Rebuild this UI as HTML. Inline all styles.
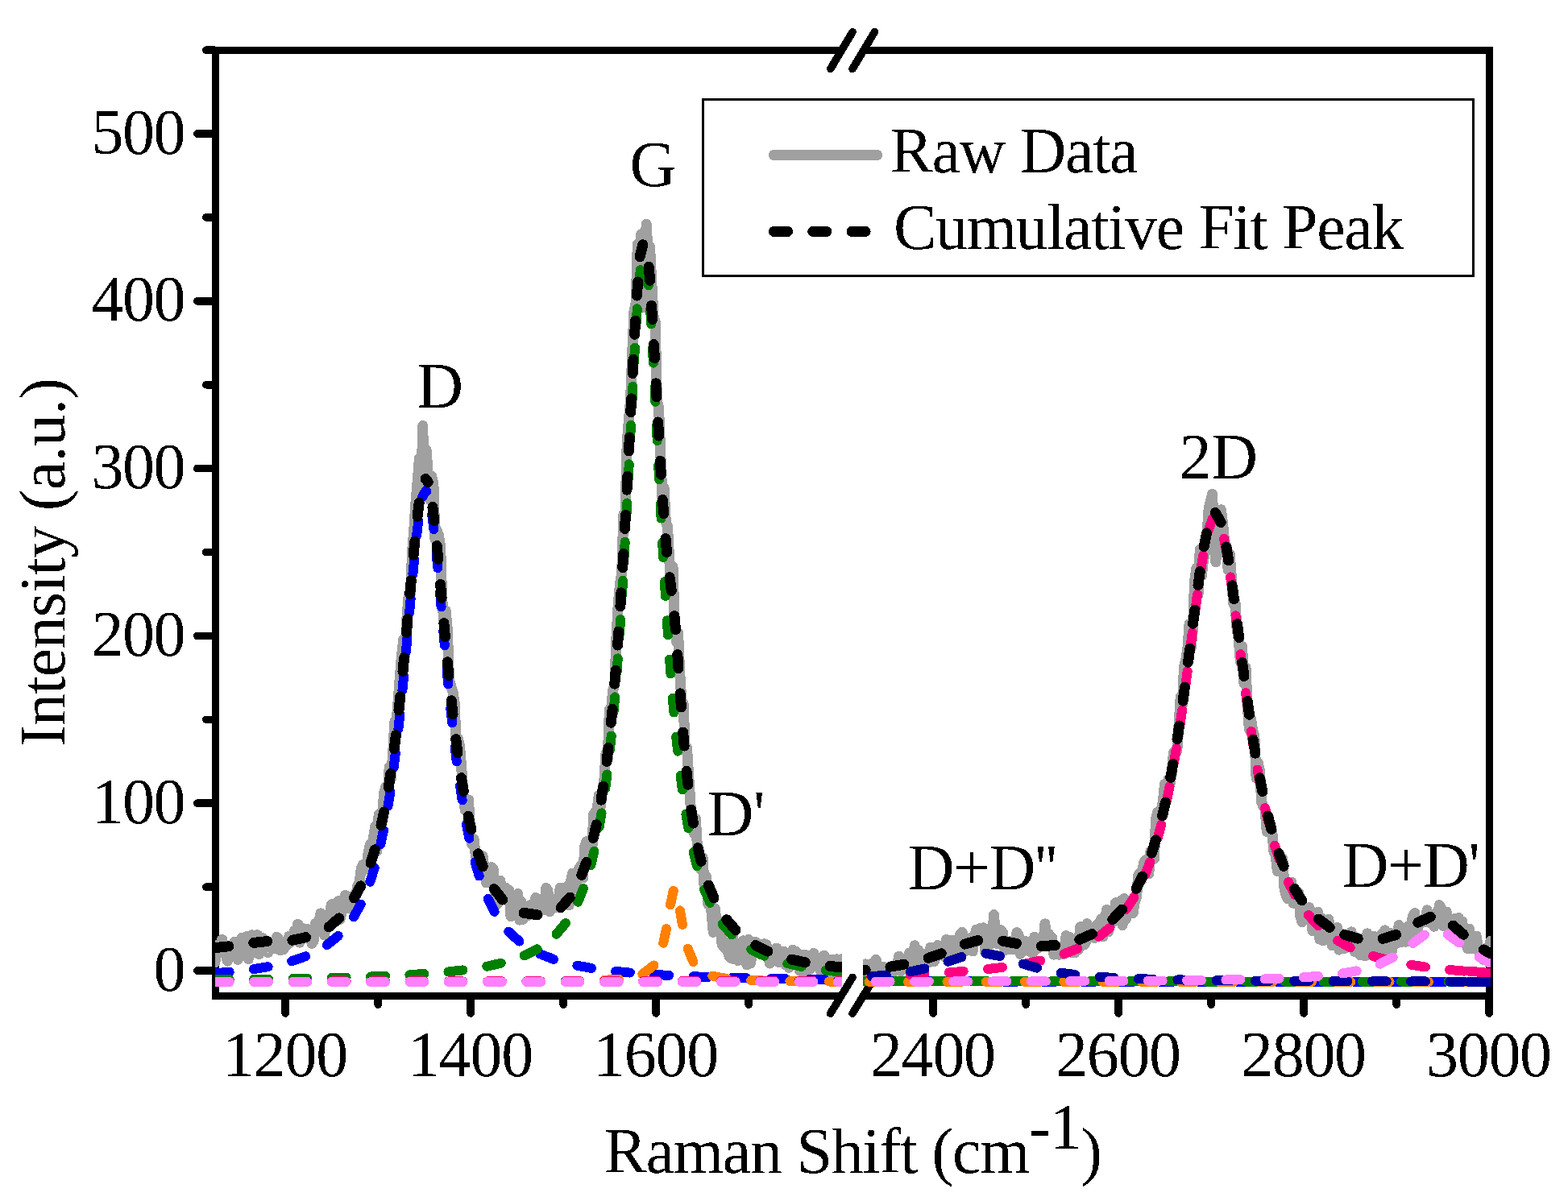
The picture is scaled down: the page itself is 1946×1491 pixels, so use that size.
<!DOCTYPE html>
<html lang="en"><head><meta charset="utf-8"><title>Raman spectrum</title>
<style>html,body{margin:0;padding:0;background:#fff}svg{display:block}text{font-family:"Liberation Serif",serif;font-size:80px;fill:#000}.ax{stroke:#000;stroke-width:9;fill:none;stroke-linecap:butt}.tk{stroke:#000;stroke-width:9.6;fill:none;stroke-linecap:round}.fit{fill:none;stroke-width:12;stroke-linecap:round;stroke-linejoin:round}.cum{fill:none;stroke:#000;stroke-width:13;stroke-linecap:round;stroke-linejoin:round}.raw{fill:none;stroke:#A0A0A0;stroke-width:13;stroke-linecap:round;stroke-linejoin:round}</style></head><body>
<svg width="1946" height="1491" viewBox="0 0 1946 1491" shape-rendering="crispEdges">
<rect width="1946" height="1491" fill="#fff"/>
<defs><filter id="tx" x="-5%" y="-20%" width="110%" height="140%" color-interpolation-filters="sRGB"><feComponentTransfer><feFuncA type="discrete" tableValues="0 1"/></feComponentTransfer></filter><clipPath id="cl"><rect x="267" y="58" width="778" height="1179"/></clipPath><clipPath id="cr"><rect x="1071" y="58" width="779" height="1179"/></clipPath></defs>
<g class="ax">
<path d="M267.7 58 V1240.5"/>
<path d="M1848.6 58 V1258"/>
<path d="M263.2 62.5 H1044.4 M1071.6 62.5 H1853.1"/>
<path d="M263.2 1236.0 H1044.4 M1071.6 1236.0 H1853.1"/>
</g>
<g class="tk">
<path d="M244.8 1205.0 H266 M255.8 1101.1 H266 M244.8 997.2 H266 M255.8 893.3 H266 M244.8 789.4 H266 M255.8 685.5 H266 M244.8 581.6 H266 M255.8 477.7 H266 M244.8 373.8 H266 M255.8 269.9 H266 M244.8 166.0 H266 M255.8 62.1 H266"/>
<path d="M354.2 1238 V1258.0 M469.2 1238 V1247.2 M584.2 1238 V1258.0 M699.2 1238 V1247.2 M814.2 1238 V1258.0 M929.2 1238 V1247.2 M1158.1 1238 V1258.0 M1273.1 1238 V1247.2 M1388.1 1238 V1258.0 M1503.1 1238 V1247.2 M1618.1 1238 V1258.0 M1733.1 1238 V1247.2 M1848.1 1238 V1258.0"/>
<path stroke-width="9.6" d="M1030.8 85.4 L1058 39.7 M1058 85.4 L1085.4 39.7 M1030.6 1258.2 L1058 1213.4 M1058 1258.2 L1085.4 1213.4"/>
</g>
<g clip-path="url(#cl)">
<path class="raw" d="M266.9,1194.9 L269.1,1173.3 L271.3,1183.4 L273.5,1174.4 L275.7,1166.4 L277.8,1179.5 L280.0,1180.3 L282.2,1193.1 L284.4,1186.8 L286.6,1179.4 L288.8,1173.5 L291.0,1169.3 L293.1,1182.0 L295.3,1191.4 L297.5,1184.2 L299.7,1164.6 L301.9,1185.8 L304.1,1178.0 L306.2,1162.7 L308.4,1190.5 L310.6,1172.2 L312.8,1160.8 L315.0,1182.9 L317.2,1172.5 L319.4,1160.7 L321.5,1184.6 L323.7,1171.9 L325.9,1164.6 L328.1,1167.5 L330.3,1174.0 L332.5,1182.5 L334.7,1173.7 L336.8,1177.5 L339.0,1174.4 L341.2,1178.0 L343.4,1163.2 L345.6,1165.4 L347.8,1179.9 L349.9,1170.7 L352.1,1178.7 L354.3,1171.7 L356.5,1173.4 L358.7,1162.3 L360.9,1169.9 L363.1,1165.5 L365.2,1155.7 L367.4,1163.9 L369.6,1147.4 L371.8,1170.1 L374.0,1151.6 L376.2,1161.2 L378.4,1160.5 L380.5,1153.1 L382.7,1156.0 L384.9,1158.8 L387.1,1171.5 L389.3,1167.7 L391.5,1146.2 L393.6,1151.0 L395.8,1143.9 L398.0,1133.9 L400.2,1141.4 L402.4,1160.9 L404.6,1150.8 L406.8,1139.5 L408.9,1149.9 L411.1,1123.5 L413.3,1122.2 L415.5,1123.2 L417.7,1134.0 L419.9,1118.7 L422.1,1141.3 L424.2,1132.5 L426.4,1124.3 L428.6,1111.4 L430.8,1117.6 L433.0,1127.3 L435.2,1116.4 L437.3,1113.6 L439.5,1110.8 L441.7,1112.4 L443.9,1099.6 L446.1,1094.9 L448.3,1078.3 L450.5,1073.2 L452.6,1079.6 L454.8,1077.2 L457.0,1059.0 L459.2,1048.7 L461.4,1051.1 L463.6,1039.0 L465.8,1025.6 L467.9,1056.4 L470.1,1011.4 L472.3,1028.7 L474.5,1009.9 L476.7,984.5 L478.9,976.5 L481.0,990.8 L483.2,952.5 L485.4,966.3 L487.6,936.3 L489.8,896.1 L492.0,897.2 L494.2,868.6 L496.3,840.8 L498.5,813.6 L500.7,793.7 L502.9,812.2 L505.1,764.5 L507.3,737.3 L509.5,737.1 L511.6,684.2 L513.8,657.5 L516.0,623.1 L518.2,597.7 L520.4,569.1 L522.6,618.0 L524.7,528.6 L526.9,617.1 L529.1,558.7 L531.3,589.1 L533.5,620.5 L535.7,591.0 L537.9,600.3 L540.0,669.5 L542.2,658.4 L544.4,664.5 L546.6,677.8 L548.8,744.0 L551.0,774.5 L553.2,758.4 L555.3,780.9 L557.5,843.3 L559.7,852.0 L561.9,858.3 L564.1,871.8 L566.3,925.1 L568.4,917.4 L570.6,926.7 L572.8,954.5 L575.0,986.8 L577.2,1005.6 L579.4,1005.9 L581.6,993.0 L583.7,1037.7 L585.9,1048.6 L588.1,1041.7 L590.3,1062.7 L592.5,1066.4 L594.7,1078.6 L596.9,1064.0 L599.0,1062.7 L601.2,1079.2 L603.4,1095.9 L605.6,1092.6 L607.8,1086.5 L610.0,1076.7 L612.1,1078.5 L614.3,1111.0 L616.5,1122.9 L618.7,1094.4 L620.9,1093.3 L623.1,1113.3 L625.3,1103.7 L627.4,1102.1 L629.6,1113.4 L631.8,1105.2 L634.0,1137.8 L636.2,1129.9 L638.4,1130.8 L640.6,1137.4 L642.7,1109.6 L644.9,1142.1 L647.1,1119.5 L649.3,1141.2 L651.5,1130.6 L653.7,1128.3 L655.8,1136.4 L658.0,1123.8 L660.2,1122.6 L662.4,1129.9 L664.6,1114.5 L666.8,1134.5 L669.0,1132.7 L671.1,1126.0 L673.3,1124.1 L675.5,1129.1 L677.7,1102.4 L679.9,1105.5 L682.1,1131.8 L684.3,1122.7 L686.4,1127.9 L688.6,1120.1 L690.8,1126.3 L693.0,1117.9 L695.2,1102.1 L697.4,1120.7 L699.5,1109.1 L701.7,1108.8 L703.9,1100.5 L706.1,1123.8 L708.3,1095.1 L710.5,1084.1 L712.7,1093.8 L714.8,1102.3 L717.0,1083.2 L719.2,1077.1 L721.4,1074.4 L723.6,1089.7 L725.8,1050.2 L728.0,1044.7 L730.1,1060.1 L732.3,1045.6 L734.5,1061.3 L736.7,1010.9 L738.9,1008.1 L741.1,1005.2 L743.2,987.5 L745.4,1001.1 L747.6,981.5 L749.8,969.1 L752.0,935.2 L754.2,941.8 L756.4,880.7 L758.5,880.6 L760.7,857.2 L762.9,849.2 L765.1,788.2 L767.3,748.8 L769.5,725.1 L771.7,711.3 L773.8,638.9 L776.0,637.0 L778.2,550.0 L780.4,521.0 L782.6,495.6 L784.8,436.6 L786.9,387.1 L789.1,376.6 L791.3,303.3 L793.5,311.7 L795.7,290.7 L797.9,382.1 L800.1,319.9 L802.2,278.2 L804.4,317.8 L806.6,306.4 L808.8,350.7 L811.0,391.6 L813.2,399.8 L815.4,498.3 L817.5,505.4 L819.7,560.5 L821.9,616.9 L824.1,605.5 L826.3,648.1 L828.5,653.8 L830.6,693.2 L832.8,726.2 L835.0,703.3 L837.2,771.5 L839.4,796.6 L841.6,785.8 L843.8,837.2 L845.9,869.8 L848.1,873.8 L850.3,930.2 L852.5,928.3 L854.7,962.9 L856.9,997.6 L859.1,1027.3 L861.2,1034.4 L863.4,1016.6 L865.6,1053.8 L867.8,1075.4 L870.0,1079.8 L872.2,1065.0 L874.3,1104.4 L876.5,1088.6 L878.7,1122.6 L880.9,1104.0 L883.1,1133.9 L885.3,1157.4 L887.5,1128.2 L889.6,1153.5 L891.8,1143.4 L894.0,1154.3 L896.2,1172.8 L898.4,1175.6 L900.6,1177.5 L902.8,1180.2 L904.9,1187.0 L907.1,1189.6 L909.3,1160.5 L911.5,1191.0 L913.7,1178.4 L915.9,1192.6 L918.0,1190.5 L920.2,1173.1 L922.4,1167.7 L924.6,1183.0 L926.8,1197.8 L929.0,1166.2 L931.2,1196.1 L933.3,1185.2 L935.5,1180.5 L937.7,1169.5 L939.9,1171.4 L942.1,1177.8 L944.3,1184.9 L946.5,1172.4 L948.6,1171.9 L950.8,1172.4 L953.0,1177.5 L955.2,1196.1 L957.4,1190.6 L959.6,1185.6 L961.7,1185.7 L963.9,1177.0 L966.1,1194.6 L968.3,1183.1 L970.5,1191.9 L972.7,1181.1 L974.9,1197.9 L977.0,1190.5 L979.2,1201.3 L981.4,1198.7 L983.6,1179.4 L985.8,1196.7 L988.0,1181.4 L990.2,1191.8 L992.3,1205.2 L994.5,1185.4 L996.7,1205.5 L998.9,1185.2 L1001.1,1207.1 L1003.3,1189.9 L1005.4,1203.5 L1007.6,1199.1 L1009.8,1183.5 L1012.0,1195.9 L1014.2,1191.7 L1016.4,1189.8 L1018.6,1206.2 L1020.7,1187.8 L1022.9,1186.1 L1025.1,1205.5 L1027.3,1195.8 L1029.5,1202.6 L1031.7,1191.3 L1033.9,1209.3 L1036.0,1197.5 L1038.2,1190.8 L1040.4,1192.5 L1042.6,1208.1 L1044.8,1190.6"/>
<path class="fit" stroke="#0000FF" d="M266.9 1208.3 L284.7 1206.7 M314.9 1203.1 L332.6 1200.2 M362.2 1193.2 L379.1 1187.3 M405.9 1173.1 L419.7 1161.9 M438.9 1138.3 L447.7 1122.7 M459.3 1094.7 L464.7 1077.6 M472.3 1048.2 L476.0 1030.7 M481.5 1000.8 L484.3 983.1 M488.6 953.0 L490.8 935.2 M494.4 905.0 L496.3 887.3 M499.4 857.0 L501.1 839.2 M503.9 808.9 L505.5 791.1 M508.1 760.8 L509.7 743.0 M512.4 712.7 L514.1 694.9 M517.2 664.6 L519.2 646.9 M524.2 616.9 L528.5 609.1 M528.5 609.1 L529.5 609.9 M536.2 639.4 L538.4 657.1 M541.6 687.3 L543.3 705.2 M546.0 735.4 L547.6 753.3 M550.3 783.6 L551.8 801.4 M554.6 831.7 L556.3 849.5 M559.3 879.7 L561.2 897.5 M564.6 927.7 L566.8 945.5 M571.0 975.6 L573.7 993.3 M578.9 1023.3 L582.4 1040.8 M589.6 1070.3 L594.7 1087.5 M605.5 1115.9 L613.6 1131.9 M631.3 1156.5 L644.4 1168.6 M670.4 1184.4 L687.0 1190.9 M716.4 1198.7 L734.0 1201.9 M764.1 1205.9 L781.9 1207.6 M812.2 1209.9 L830.1 1210.9 M860.5 1212.3 L878.4 1212.9 M908.8 1213.9 L926.7 1214.3 M957.1 1214.9 L974.9 1215.2 M1005.3 1215.7 L1023.2 1215.9"/>
<path class="fit" stroke="#008000" d="M266.9 1216.3 L284.8 1216.1 M315.2 1215.7 L333.1 1215.5 M363.5 1215.0 L381.4 1214.7 M411.8 1214.0 L429.7 1213.5 M460.1 1212.5 L478.0 1211.7 M508.3 1210.2 L526.2 1209.0 M556.5 1206.4 L574.3 1204.4 M604.3 1199.7 L621.7 1195.8 M650.6 1186.3 L666.6 1178.3 M690.5 1159.7 L702.0 1146.0 M717.2 1119.7 L724.0 1103.1 M733.2 1074.1 L737.5 1056.8 M743.6 1027.0 L746.6 1009.4 M751.1 979.3 L753.4 961.5 M756.9 931.3 L758.7 913.5 M761.6 883.3 L763.1 865.4 M765.5 835.1 L766.8 817.3 M768.9 786.9 L770.1 769.1 M772.0 738.7 L773.0 720.9 M774.7 690.5 L775.7 672.7 M777.3 642.3 L778.2 624.4 M779.8 594.1 L780.7 576.2 M782.1 545.8 L783.0 527.9 M784.5 497.6 L785.4 479.7 M787.0 449.3 L787.9 431.5 M789.7 401.1 L790.8 383.2 M793.1 352.9 L794.8 335.1 M803.1 336.4 L804.9 354.2 M807.1 384.5 L808.2 402.4 M809.9 432.7 L810.9 450.6 M812.5 480.9 L813.3 498.8 M814.8 529.2 L815.7 547.1 M817.2 577.4 L818.1 595.3 M819.6 625.7 L820.6 643.5 M822.2 673.9 L823.1 691.8 M824.9 722.1 L825.9 740.0 M827.8 770.3 L829.0 788.2 M831.1 818.5 L832.4 836.4 M834.8 866.7 L836.4 884.5 M839.2 914.8 L841.1 932.6 M844.6 962.8 L846.9 980.5 M851.4 1010.6 L854.4 1028.2 M860.6 1058.0 L865.0 1075.3 M874.2 1104.3 L881.2 1120.8 M896.5 1147.0 L908.2 1160.5 M932.3 1178.9 L948.4 1186.7 M977.3 1196.1 L994.8 1199.9 M1024.8 1204.5 L1042.6 1206.5"/>
<path class="fit" stroke="#FF8000" d="M266.9 1218.9 L284.8 1218.9 M315.2 1218.9 L333.1 1218.9 M363.5 1218.8 L381.4 1218.8 M411.8 1218.8 L429.7 1218.8 M460.1 1218.8 L478.0 1218.8 M508.4 1218.8 L526.3 1218.7 M556.7 1218.7 L574.6 1218.7 M605.0 1218.6 L622.9 1218.6 M653.3 1218.4 L671.2 1218.3 M701.6 1218.0 L719.5 1217.7 M749.9 1216.8 L767.8 1215.6 M797.4 1209.3 L811.4 1198.5 M823.2 1170.7 L827.0 1153.2 M832.0 1123.3 L835.8 1105.8 M844.0 1130.4 L847.0 1148.0 M853.6 1177.7 L860.5 1194.1 M884.3 1211.7 L901.8 1215.0 M932.2 1217.1 L950.0 1217.6 M980.4 1218.1 L998.3 1218.3 M1028.7 1218.5 L1044.9 1218.5"/>
<path class="fit" stroke="#FF0080" d="M266.9 1218.5 L284.8 1218.5 M315.2 1218.5 L333.1 1218.5 M363.5 1218.5 L381.4 1218.5 M411.8 1218.5 L429.7 1218.4 M460.1 1218.4 L478.0 1218.4 M508.4 1218.4 L526.3 1218.4 M556.7 1218.4 L574.6 1218.4 M605.0 1218.3 L622.9 1218.3 M653.3 1218.3 L671.2 1218.3 M701.6 1218.2 L719.5 1218.2 M749.9 1218.2 L767.8 1218.2 M798.2 1218.1 L816.1 1218.1 M846.5 1218.1 L864.4 1218.1 M894.8 1218.0 L912.7 1218.0 M943.1 1217.9 L961.0 1217.9 M991.4 1217.8 L1009.3 1217.8 M1039.7 1217.7 L1044.9 1217.7"/>
<path class="fit" stroke="#0000A0" d="M266.9 1218.9 L284.8 1218.9 M315.2 1218.9 L333.1 1218.8 M363.5 1218.8 L381.4 1218.8 M411.8 1218.8 L429.7 1218.8 M460.1 1218.8 L478.0 1218.8 M508.4 1218.8 L526.3 1218.8 M556.7 1218.8 L574.6 1218.8 M605.0 1218.8 L622.9 1218.8 M653.3 1218.8 L671.2 1218.8 M701.6 1218.8 L719.5 1218.8 M749.9 1218.8 L767.8 1218.8 M798.2 1218.8 L816.1 1218.8 M846.5 1218.7 L864.4 1218.7 M894.8 1218.7 L912.7 1218.7 M943.1 1218.7 L961.0 1218.7 M991.4 1218.7 L1009.3 1218.7 M1039.7 1218.6 L1044.9 1218.6"/>
<path class="fit" stroke="#FF80FF" d="M266.9 1218.9 L284.8 1218.9 M315.2 1218.9 L333.1 1218.9 M363.5 1218.9 L381.4 1218.9 M411.8 1218.9 L429.7 1218.9 M460.1 1218.9 L478.0 1218.9 M508.4 1218.9 L526.3 1218.9 M556.7 1218.9 L574.6 1218.9 M605.0 1218.9 L622.9 1218.9 M653.3 1218.9 L671.2 1218.9 M701.6 1218.9 L719.5 1218.9 M749.9 1218.9 L767.8 1218.9 M798.2 1218.9 L816.1 1218.9 M846.5 1218.8 L864.4 1218.8 M894.8 1218.8 L912.7 1218.8 M943.1 1218.8 L961.0 1218.8 M991.4 1218.8 L1009.3 1218.8 M1039.7 1218.8 L1044.9 1218.8"/>
<path class="cum" d="M266.9 1176.6 L283.9 1174.8 M314.8 1170.4 L331.7 1168.5 M362.9 1167.2 L379.6 1163.7 M408.0 1151.0 L420.8 1139.8 M439.4 1114.8 L447.7 1099.9 M460.0 1071.2 L465.2 1054.9 M473.0 1024.7 L476.6 1008.0 M482.2 977.3 L484.9 960.4 M489.2 929.5 L491.4 912.6 M495.0 881.6 L496.8 864.6 M500.0 833.5 L501.6 816.5 M504.5 785.4 L506.0 768.4 M508.8 737.3 L510.3 720.3 M513.1 689.2 L514.8 672.2 M518.1 641.2 L520.2 624.2 M528.1 594.6 L528.5 594.6 M528.5 594.6 L531.2 598.7 M536.9 629.4 L538.9 646.4 M542.2 677.4 L543.8 694.4 M546.6 725.5 L548.1 742.5 M550.9 773.6 L552.4 790.6 M555.3 821.7 L557.0 838.7 M560.2 869.7 L562.1 886.7 M565.8 917.7 L568.0 934.7 M572.5 965.6 L575.3 982.4 M581.1 1013.1 L584.9 1029.7 M593.4 1059.8 L599.2 1075.8 M613.3 1103.6 L623.8 1117.1 M650.0 1133.3 L666.9 1135.8 M696.1 1126.8 L707.3 1114.0 M721.8 1086.4 L727.8 1070.4 M736.4 1040.4 L740.2 1023.8 M746.0 993.1 L748.7 976.2 M753.0 945.3 L755.0 928.4 M758.4 897.3 L760.1 880.3 M762.8 849.2 L764.2 832.2 M766.6 801.1 L767.8 784.0 M769.9 752.9 L770.9 735.8 M772.8 704.7 L773.8 687.6 M775.5 656.5 L776.4 639.4 M778.0 608.2 L778.9 591.2 M780.5 560.0 L781.3 542.9 M782.8 511.7 L783.6 494.7 M785.2 463.5 L786.0 446.4 M787.7 415.3 L788.6 398.2 M790.5 367.1 L791.6 350.0 M794.1 318.9 L797.8 303.8 M805.3 331.2 L806.6 348.2 M808.6 379.4 L809.7 396.4 M811.4 427.6 L812.4 444.7 M814.1 475.8 L815.0 492.9 M816.7 524.0 L817.6 541.1 M819.4 572.3 L820.4 589.3 M822.4 620.5 L823.6 637.5 M826.0 668.6 L827.6 685.7 M831.1 716.7 L833.3 733.6 M836.9 764.6 L838.5 781.6 M840.8 812.7 L842.0 829.8 M844.2 860.9 L845.4 878.0 M847.7 909.1 L849.1 926.1 M852.0 957.2 L853.8 974.2 M857.8 1005.2 L860.4 1022.1 M866.2 1052.7 L870.1 1069.3 M879.4 1099.1 L886.0 1114.9 M901.8 1141.7 L913.0 1154.7 M937.7 1173.5 L953.0 1181.1 M982.5 1191.1 L999.2 1194.8 M1030.1 1199.4 L1044.9 1201.0"/>
</g>
<g clip-path="url(#cr)">
<path class="raw" d="M1071.8,1209.9 L1074.0,1196.9 L1076.2,1203.6 L1078.4,1211.1 L1080.6,1197.7 L1082.8,1195.7 L1085.0,1198.0 L1087.1,1191.4 L1089.3,1207.9 L1091.5,1208.1 L1093.7,1210.0 L1095.9,1200.3 L1098.1,1203.4 L1100.3,1204.1 L1102.4,1201.2 L1104.6,1205.5 L1106.8,1211.9 L1109.0,1199.9 L1111.2,1204.5 L1113.4,1199.7 L1115.6,1187.2 L1117.7,1205.8 L1119.9,1193.7 L1122.1,1193.1 L1124.3,1202.0 L1126.5,1196.6 L1128.7,1183.0 L1130.8,1199.0 L1133.0,1188.7 L1135.2,1173.8 L1137.4,1196.9 L1139.6,1179.4 L1141.8,1188.6 L1144.0,1191.4 L1146.1,1184.9 L1148.3,1192.2 L1150.5,1183.5 L1152.7,1195.0 L1154.9,1176.0 L1157.1,1186.0 L1159.3,1193.8 L1161.4,1187.5 L1163.6,1173.5 L1165.8,1175.2 L1168.0,1183.6 L1170.2,1186.6 L1172.4,1185.1 L1174.5,1166.4 L1176.7,1191.2 L1178.9,1167.2 L1181.1,1167.1 L1183.3,1185.3 L1185.5,1180.6 L1187.7,1173.0 L1189.8,1165.0 L1192.0,1159.6 L1194.2,1157.4 L1196.4,1178.6 L1198.6,1180.6 L1200.8,1170.7 L1203.0,1167.8 L1205.1,1164.1 L1207.3,1180.8 L1209.5,1163.3 L1211.7,1154.2 L1213.9,1154.0 L1216.1,1152.7 L1218.2,1153.2 L1220.4,1151.8 L1222.6,1180.8 L1224.8,1153.1 L1227.0,1173.6 L1229.2,1172.1 L1231.4,1167.8 L1233.5,1135.6 L1235.7,1163.4 L1237.9,1171.7 L1240.1,1171.3 L1242.3,1154.8 L1244.5,1157.7 L1246.7,1179.8 L1248.8,1176.6 L1251.0,1173.2 L1253.2,1178.4 L1255.4,1168.0 L1257.6,1179.0 L1259.8,1168.5 L1261.9,1157.7 L1264.1,1160.8 L1266.3,1184.4 L1268.5,1181.4 L1270.7,1175.4 L1272.9,1168.5 L1275.1,1176.8 L1277.2,1181.2 L1279.4,1178.6 L1281.6,1183.1 L1283.8,1163.1 L1286.0,1168.3 L1288.2,1177.2 L1290.4,1168.4 L1292.5,1173.9 L1294.7,1173.7 L1296.9,1146.8 L1299.1,1174.7 L1301.3,1159.3 L1303.5,1165.3 L1305.6,1163.7 L1307.8,1185.1 L1310.0,1173.2 L1312.2,1177.1 L1314.4,1185.3 L1316.6,1175.5 L1318.8,1185.0 L1320.9,1179.6 L1323.1,1161.5 L1325.3,1164.5 L1327.5,1163.5 L1329.7,1182.3 L1331.9,1179.1 L1334.1,1182.9 L1336.2,1179.8 L1338.4,1178.9 L1340.6,1150.7 L1342.8,1151.9 L1345.0,1173.2 L1347.2,1170.6 L1349.3,1146.7 L1351.5,1158.3 L1353.7,1163.7 L1355.9,1159.4 L1358.1,1164.5 L1360.3,1152.9 L1362.5,1146.8 L1364.6,1152.4 L1366.8,1140.6 L1369.0,1162.9 L1371.2,1144.6 L1373.4,1129.6 L1375.6,1156.7 L1377.8,1142.9 L1379.9,1136.2 L1382.1,1144.3 L1384.3,1120.8 L1386.5,1136.4 L1388.7,1135.1 L1390.9,1118.2 L1393.0,1148.6 L1395.2,1115.6 L1397.4,1140.8 L1399.6,1129.4 L1401.8,1123.0 L1404.0,1120.2 L1406.2,1133.5 L1408.3,1119.3 L1410.5,1114.0 L1412.7,1086.5 L1414.9,1083.6 L1417.1,1092.1 L1419.3,1071.7 L1421.5,1067.9 L1423.6,1081.0 L1425.8,1084.7 L1428.0,1056.8 L1430.2,1061.0 L1432.4,1066.3 L1434.6,1015.9 L1436.7,1008.3 L1438.9,1019.1 L1441.1,1006.6 L1443.3,995.0 L1445.5,973.2 L1447.7,984.1 L1449.9,967.7 L1452.0,973.4 L1454.2,960.7 L1456.4,934.3 L1458.6,935.7 L1460.8,932.2 L1463.0,900.5 L1465.2,865.5 L1467.3,874.9 L1469.5,827.3 L1471.7,819.3 L1473.9,805.1 L1476.1,774.5 L1478.3,803.8 L1480.4,781.0 L1482.6,721.7 L1484.8,705.2 L1487.0,738.8 L1489.2,682.1 L1491.4,714.5 L1493.6,694.9 L1495.7,685.7 L1497.9,665.1 L1500.1,631.5 L1502.3,623.2 L1504.5,613.4 L1506.7,659.7 L1508.9,698.0 L1511.0,637.7 L1513.2,668.5 L1515.4,632.7 L1517.6,649.3 L1519.8,674.3 L1522.0,677.4 L1524.1,707.3 L1526.3,687.8 L1528.5,719.4 L1530.7,749.6 L1532.9,746.8 L1535.1,781.2 L1537.3,794.1 L1539.4,821.5 L1541.6,802.6 L1543.8,848.2 L1546.0,828.9 L1548.2,875.7 L1550.4,905.4 L1552.6,892.6 L1554.7,906.7 L1556.9,914.3 L1559.1,966.1 L1561.3,947.2 L1563.5,957.0 L1565.7,996.2 L1567.8,1000.8 L1570.0,1004.4 L1572.2,1032.3 L1574.4,1014.0 L1576.6,1031.5 L1578.8,1032.4 L1581.0,1057.5 L1583.1,1061.2 L1585.3,1081.3 L1587.5,1082.0 L1589.7,1070.1 L1591.9,1065.9 L1594.1,1104.0 L1596.3,1112.5 L1598.4,1115.9 L1600.6,1105.1 L1602.8,1095.0 L1605.0,1121.2 L1607.2,1115.0 L1609.4,1116.9 L1611.5,1107.9 L1613.7,1136.5 L1615.9,1144.8 L1618.1,1129.1 L1620.3,1137.3 L1622.5,1141.9 L1624.7,1126.7 L1626.8,1132.1 L1629.0,1155.6 L1631.2,1141.0 L1633.4,1134.2 L1635.6,1132.3 L1637.8,1166.1 L1640.0,1139.7 L1642.1,1167.8 L1644.3,1147.4 L1646.5,1151.8 L1648.7,1141.2 L1650.9,1153.5 L1653.1,1173.7 L1655.2,1154.7 L1657.4,1169.7 L1659.6,1151.6 L1661.8,1179.1 L1664.0,1170.4 L1666.2,1159.6 L1668.4,1177.5 L1670.5,1162.2 L1672.7,1161.3 L1674.9,1160.8 L1677.1,1156.9 L1679.3,1172.4 L1681.5,1181.7 L1683.7,1178.4 L1685.8,1174.7 L1688.0,1185.8 L1690.2,1165.3 L1692.4,1186.2 L1694.6,1186.6 L1696.8,1158.9 L1698.9,1163.1 L1701.1,1180.8 L1703.3,1177.9 L1705.5,1162.4 L1707.7,1168.8 L1709.9,1179.8 L1712.1,1173.7 L1714.2,1160.3 L1716.4,1187.2 L1718.6,1154.9 L1720.8,1168.1 L1723.0,1179.5 L1725.2,1158.4 L1727.4,1180.6 L1729.5,1168.5 L1731.7,1161.8 L1733.9,1171.0 L1736.1,1148.5 L1738.3,1153.1 L1740.5,1169.2 L1742.6,1167.8 L1744.8,1169.2 L1747.0,1150.3 L1749.2,1161.5 L1751.4,1147.8 L1753.6,1137.0 L1755.8,1133.5 L1757.9,1158.4 L1760.1,1149.7 L1762.3,1145.6 L1764.5,1145.6 L1766.7,1143.4 L1768.9,1141.0 L1771.1,1129.9 L1773.2,1145.2 L1775.4,1143.5 L1777.6,1141.7 L1779.8,1150.2 L1782.0,1133.2 L1784.2,1141.5 L1786.3,1123.6 L1788.5,1127.6 L1790.7,1149.2 L1792.9,1149.7 L1795.1,1132.0 L1797.3,1141.1 L1799.5,1161.6 L1801.6,1141.8 L1803.8,1151.6 L1806.0,1140.2 L1808.2,1143.4 L1810.4,1139.5 L1812.6,1148.9 L1814.8,1143.9 L1816.9,1166.4 L1819.1,1166.5 L1821.3,1177.3 L1823.5,1153.3 L1825.7,1177.7 L1827.9,1166.9 L1830.0,1169.9 L1832.2,1162.1 L1834.4,1176.8 L1836.6,1185.8 L1838.8,1179.9 L1841.0,1191.3 L1843.2,1185.0 L1845.3,1176.5 L1847.5,1194.5 L1849.7,1168.5"/>
<path class="fit" stroke="#0000FF" d="M1100.1 1218.4 L1118.0 1218.4 M1148.4 1218.4 L1166.3 1218.4 M1196.7 1218.4 L1214.6 1218.5 M1245.0 1218.5 L1262.9 1218.5 M1293.3 1218.5 L1311.2 1218.5 M1341.6 1218.5 L1359.5 1218.5 M1389.9 1218.6 L1407.8 1218.6 M1438.2 1218.6 L1456.1 1218.6 M1486.5 1218.6 L1504.4 1218.6 M1534.8 1218.6 L1552.7 1218.6 M1583.1 1218.6 L1601.0 1218.7 M1631.4 1218.7 L1649.3 1218.7 M1679.7 1218.7 L1697.6 1218.7 M1728.0 1218.7 L1745.9 1218.7 M1776.3 1218.7 L1794.2 1218.7 M1824.6 1218.7 L1842.5 1218.7"/>
<path class="fit" stroke="#008000" d="M1071.8 1217.9 L1080.7 1217.9 M1111.1 1218.0 L1129.0 1218.0 M1159.4 1218.1 L1177.3 1218.1 M1207.7 1218.2 L1225.6 1218.2 M1256.0 1218.2 L1273.9 1218.2 M1304.3 1218.3 L1322.2 1218.3 M1352.6 1218.3 L1370.5 1218.4 M1400.9 1218.4 L1418.8 1218.4 M1449.2 1218.4 L1467.1 1218.4 M1497.5 1218.5 L1515.4 1218.5 M1545.8 1218.5 L1563.7 1218.5 M1594.1 1218.5 L1612.0 1218.5 M1642.4 1218.6 L1660.3 1218.6 M1690.7 1218.6 L1708.6 1218.6 M1739.0 1218.6 L1756.9 1218.6 M1797.5 1218.6 L1805.2 1218.6 M1835.6 1218.6 L1849.2 1218.6"/>
<path class="fit" stroke="#FF8000" d="M1078.8 1218.9 L1096.7 1218.9 M1127.1 1218.9 L1145.0 1218.9 M1175.4 1218.9 L1193.3 1218.9 M1223.7 1218.9 L1241.6 1218.9 M1272.0 1218.9 L1289.9 1218.9 M1320.3 1218.9 L1338.2 1218.9 M1368.6 1218.9 L1386.5 1218.9 M1416.9 1218.9 L1434.8 1218.9 M1465.2 1218.9 L1483.1 1218.9 M1513.5 1218.9 L1531.4 1218.9 M1561.8 1218.9 L1579.7 1218.9 M1610.1 1218.9 L1628.0 1218.9 M1658.4 1218.9 L1676.3 1218.9 M1706.7 1218.9 L1724.6 1218.9 M1755.0 1218.9 L1772.9 1218.9 M1803.3 1218.9 L1821.2 1218.9"/>
<path class="fit" stroke="#FF0080" d="M1081.4 1211.9 L1099.3 1211.3 M1129.7 1210.0 L1147.5 1209.1 M1177.9 1207.3 L1195.7 1205.9 M1226.0 1203.1 L1243.8 1200.9 M1273.8 1196.2 L1291.3 1192.6 M1320.5 1184.3 L1337.2 1177.7 M1363.6 1162.8 L1377.6 1151.6 M1397.7 1128.9 L1407.4 1113.9 M1420.9 1086.6 L1427.4 1069.9 M1436.6 1041.0 L1441.2 1023.7 M1448.0 994.1 L1451.6 976.5 M1457.0 946.6 L1460.0 929.0 M1464.6 898.9 L1467.2 881.2 M1471.3 851.1 L1473.7 833.3 M1477.6 803.2 L1479.8 785.4 M1483.7 755.3 L1486.1 737.5 M1490.3 707.4 L1493.1 689.8 M1499.0 659.9 L1505.2 643.2 M1519.1 668.8 L1522.4 686.4 M1527.1 716.4 L1529.6 734.2 M1533.5 764.3 L1535.8 782.1 M1539.7 812.2 L1542.0 830.0 M1546.0 860.1 L1548.4 877.8 M1552.8 907.9 L1555.6 925.6 M1560.6 955.6 L1563.9 973.2 M1570.0 1003.0 L1574.1 1020.4 M1582.1 1049.7 L1587.6 1066.7 M1598.9 1095.0 L1607.0 1110.9 M1623.9 1136.1 L1636.0 1149.3 M1660.1 1167.8 L1675.8 1176.3 M1704.2 1187.1 L1721.5 1191.8 M1751.3 1197.8 L1769.0 1200.5 M1799.2 1204.0 L1817.0 1205.6 M1847.3 1207.9 L1849.2 1208.0 M1823.0 1205.8 L1841.4 1207.1"/>
<path class="fit" stroke="#0000A0" d="M1082.0 1212.2 L1099.8 1210.5 M1129.9 1206.2 L1147.4 1202.5 M1176.5 1193.8 L1193.5 1188.1 M1223.4 1183.7 L1240.9 1187.0 M1269.8 1196.6 L1287.0 1201.6 M1316.7 1207.7 L1334.5 1210.1 M1364.8 1212.8 L1382.6 1213.9 M1413.0 1215.2 L1430.9 1215.7 M1461.3 1216.4 L1479.2 1216.7 M1509.6 1217.2 L1527.5 1217.3 M1557.9 1217.6 L1575.8 1217.7 M1606.2 1217.9 L1624.1 1218.0 M1654.5 1218.1 L1672.4 1218.2 M1702.8 1218.3 L1720.7 1218.3 M1751.1 1218.4 L1769.0 1218.4 M1799.4 1218.5 L1817.3 1218.5 M1847.7 1218.5 L1849.2 1218.5 M1823.0 1219.0 L1853.0 1219.0"/>
<path class="fit" stroke="#FF80FF" d="M1086.7 1218.6 L1104.6 1218.6 M1135.0 1218.5 L1152.9 1218.5 M1183.3 1218.5 L1201.2 1218.4 M1231.6 1218.4 L1249.5 1218.3 M1279.9 1218.3 L1297.8 1218.2 M1328.2 1218.1 L1346.1 1218.0 M1376.5 1217.9 L1394.4 1217.8 M1424.8 1217.6 L1442.7 1217.5 M1473.1 1217.2 L1491.0 1217.0 M1521.4 1216.5 L1539.3 1216.2 M1569.7 1215.4 L1587.6 1214.8 M1617.9 1213.2 L1635.8 1211.9 M1666.0 1208.5 L1683.6 1205.4 M1712.7 1196.6 L1728.7 1188.6 M1753.4 1171.0 L1767.9 1160.5 M1796.5 1160.0 L1811.1 1170.5 M1835.7 1188.2 L1849.2 1195.2"/>
<path class="cum" d="M1071.8 1204.2 L1074.1 1204.0 M1105.0 1200.1 L1121.9 1197.2 M1152.1 1189.4 L1168.2 1183.8 M1197.2 1172.1 L1213.6 1167.5 M1244.6 1168.3 L1261.4 1171.4 M1292.4 1174.6 L1309.5 1173.6 M1339.8 1166.4 L1355.4 1159.5 M1380.8 1141.5 L1392.6 1129.1 M1410.1 1103.3 L1417.8 1088.1 M1429.3 1059.1 L1434.5 1042.8 M1442.6 1012.7 L1446.5 996.0 M1452.7 965.4 L1455.8 948.6 M1461.0 917.8 L1463.6 901.0 M1468.1 870.1 L1470.4 853.1 M1474.5 822.2 L1476.7 805.2 M1480.6 774.3 L1482.8 757.3 M1487.0 726.4 L1489.3 709.5 M1494.2 678.7 L1497.5 661.9 M1508.3 636.5 L1515.3 648.6 M1521.9 679.0 L1524.7 695.9 M1529.2 726.8 L1531.5 743.7 M1535.5 774.6 L1537.7 791.6 M1541.7 822.5 L1543.9 839.5 M1548.1 870.4 L1550.5 887.3 M1555.2 918.2 L1558.0 935.1 M1563.5 965.8 L1566.8 982.6 M1573.6 1013.0 L1577.9 1029.5 M1587.1 1059.4 L1593.1 1075.4 M1606.6 1103.5 L1615.7 1117.9 M1636.5 1141.1 L1650.2 1151.3 M1668.8 1160.5 L1685.2 1165.1 M1716.2 1165.4 L1732.6 1160.4 M1759.8 1145.2 L1775.3 1138.3 M1803.4 1149.1 L1816.3 1160.3 M1841.3 1179.0 L1849.2 1183.4"/>
</g>
<rect x="872.4" y="123.4" width="955.6" height="218.6" fill="#fff" stroke="#000" stroke-width="3"/>
<path class="raw" d="M960.3 192.4 H1088.7"/>
<path class="cum" d="M960.4 287.4 H977.5 M1008.7 287.4 H1025.8 M1057 287.4 H1074.1"/>
<text filter="url(#tx)" transform="translate(1104.5 213.6) scale(1 1.000)" textLength="308.0" lengthAdjust="spacing">Raw Data</text>
<text filter="url(#tx)" transform="translate(1109.0 308.6) scale(1 1.000)" textLength="633.5" lengthAdjust="spacing">Cumulative Fit Peak</text>
<text filter="url(#tx)" transform="translate(230.5 1229.6) scale(1 1.000)" text-anchor="end">0</text>
<text filter="url(#tx)" transform="translate(230.5 1021.8) scale(1 1.000)" text-anchor="end" textLength="117.0" lengthAdjust="spacing">100</text>
<text filter="url(#tx)" transform="translate(230.5 814.0) scale(1 1.000)" text-anchor="end" textLength="117.0" lengthAdjust="spacing">200</text>
<text filter="url(#tx)" transform="translate(230.5 606.2) scale(1 1.000)" text-anchor="end" textLength="117.0" lengthAdjust="spacing">300</text>
<text filter="url(#tx)" transform="translate(230.5 398.4) scale(1 1.000)" text-anchor="end" textLength="117.0" lengthAdjust="spacing">400</text>
<text filter="url(#tx)" transform="translate(230.5 190.6) scale(1 1.000)" text-anchor="end" textLength="117.0" lengthAdjust="spacing">500</text>
<text filter="url(#tx)" transform="translate(354.2 1335.8) scale(1 1.000)" text-anchor="middle" textLength="156.0" lengthAdjust="spacing">1200</text>
<text filter="url(#tx)" transform="translate(584.2 1335.8) scale(1 1.000)" text-anchor="middle" textLength="156.0" lengthAdjust="spacing">1400</text>
<text filter="url(#tx)" transform="translate(814.2 1335.8) scale(1 1.000)" text-anchor="middle" textLength="156.0" lengthAdjust="spacing">1600</text>
<text filter="url(#tx)" transform="translate(1158.1 1335.8) scale(1 1.000)" text-anchor="middle" textLength="156.0" lengthAdjust="spacing">2400</text>
<text filter="url(#tx)" transform="translate(1388.1 1335.8) scale(1 1.000)" text-anchor="middle" textLength="156.0" lengthAdjust="spacing">2600</text>
<text filter="url(#tx)" transform="translate(1618.1 1335.8) scale(1 1.000)" text-anchor="middle" textLength="156.0" lengthAdjust="spacing">2800</text>
<text filter="url(#tx)" transform="translate(1848.1 1335.8) scale(1 1.000)" text-anchor="middle" textLength="156.0" lengthAdjust="spacing">3000</text>
<text filter="url(#tx)" transform="translate(749.5 1455.5) scale(1 1.000)" textLength="618.5" lengthAdjust="spacing">Raman Shift (cm<tspan dy="-29.5">-1</tspan><tspan dy="29.5">)</tspan></text>
<text filter="url(#tx)" transform="translate(80.0 927.0) rotate(-90) scale(1 1.000)" textLength="458.0" lengthAdjust="spacing">Intensity (a.u.)</text>
<text filter="url(#tx)" transform="translate(517.3 506.2) scale(1 1.000)">D</text>
<text filter="url(#tx)" transform="translate(781.5 230.5) scale(1 1.000)">G</text>
<text filter="url(#tx)" transform="translate(877.5 1036.5) scale(1 1.000)" textLength="72.0" lengthAdjust="spacing">D'</text>
<text filter="url(#tx)" transform="translate(1463.5 593.5) scale(1 1.000)" textLength="97.5" lengthAdjust="spacing">2D</text>
<text filter="url(#tx)" transform="translate(1126.7 1104.2) scale(1 1.000)" textLength="185.5" lengthAdjust="spacing">D+D''</text>
<text filter="url(#tx)" transform="translate(1665.4 1101.2) scale(1 1.000)" textLength="171.5" lengthAdjust="spacing">D+D'</text>
</svg></body></html>
